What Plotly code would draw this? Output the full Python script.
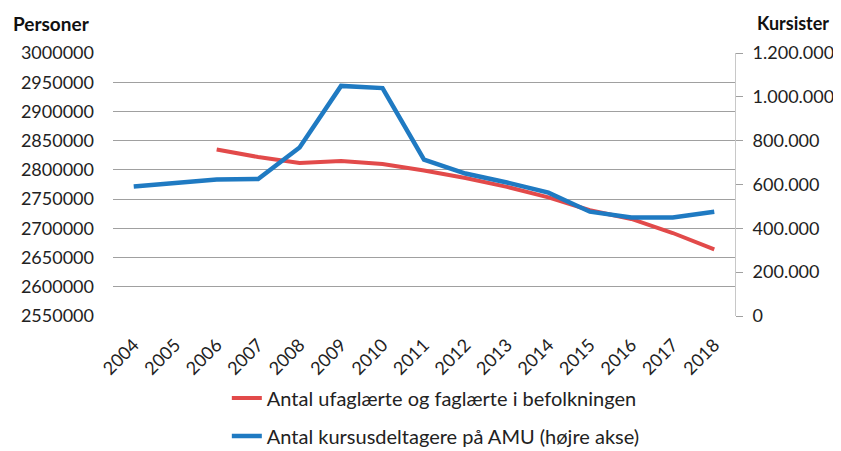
import plotly.graph_objects as go

years = [str(y) for y in range(2004, 2019)]
red_name = "Antal ufaglærte og faglærte i befolkningen"
blue_name = "Antal kursusdeltagere på AMU (højre akse)"
red_years = years[2:]
red_values = [2835000, 2822000, 2812000, 2815000, 2810000, 2799000, 2786000,
              2771000, 2753000, 2731000, 2716000, 2692000, 2664000]
blue_values = [591000, 609000, 623000, 625000, 769000, 1050000, 1040000, 714000,
               650000, 609000, 563000, 476000, 449000, 449000, 476000]

font_family = "Lato, 'Open Sans', sans-serif"
fig = go.Figure()
fig.add_trace(go.Scatter(x=red_years, y=red_values, name=red_name, mode="lines",
                         line=dict(color="#E24A4A", width=4), yaxis="y",
                         legendgroup="a"))
fig.add_trace(go.Scatter(x=years, y=blue_values, name=blue_name, mode="lines",
                         line=dict(color="#1F7AC2", width=4.5), yaxis="y2",
                         legendgroup="b"))

fig.update_layout(
    width=833, height=470,
    margin=dict(l=105, r=106, t=45, b=162, autoexpand=False),
    paper_bgcolor="white", plot_bgcolor="white",
    separators=",.",
    font=dict(family=font_family, size=18, color="#222222"),
    xaxis=dict(type="category", categoryorder="array", categoryarray=years,
               range=[-0.5, 14.5], tickangle=-45, showgrid=False,
               showline=False, ticks="", ticklabelstandoff=14,
               automargin=False),
    yaxis=dict(range=[2550000, 3000000], dtick=50000, tickformat="d",
               showgrid=True, gridcolor="#A0A0A0", gridwidth=1,
               zeroline=False, showline=False, ticks="", ticklabelstandoff=18,
               automargin=False),
    yaxis2=dict(range=[0, 1200000], dtick=200000, tickformat=",d",
                overlaying="y", side="right", showgrid=False, zeroline=False,
                showline=True, linecolor="#C8C8C8", linewidth=1,
                ticks="outside", ticklen=7, tickcolor="#A0A0A0",
                ticklabelstandoff=6, automargin=False),
    legend=dict(x=0.183, xanchor="left", y=-0.238, yanchor="top",
                orientation="v", traceorder="grouped", tracegroupgap=9,
                font=dict(size=20), bgcolor="rgba(0,0,0,0)"),
    annotations=[
        dict(text="<b>Personer</b>", xref="paper", yref="paper", x=-0.164,
             xanchor="left", y=1.114, yanchor="middle", showarrow=False,
             font=dict(size=19, color="#111111")),
        dict(text="<b>Kursister</b>", xref="paper", yref="paper", x=1.032,
             xanchor="left", y=1.114, yanchor="middle", showarrow=False,
             font=dict(size=18, color="#111111")),
    ],
)

fig.write_html("out.html")
